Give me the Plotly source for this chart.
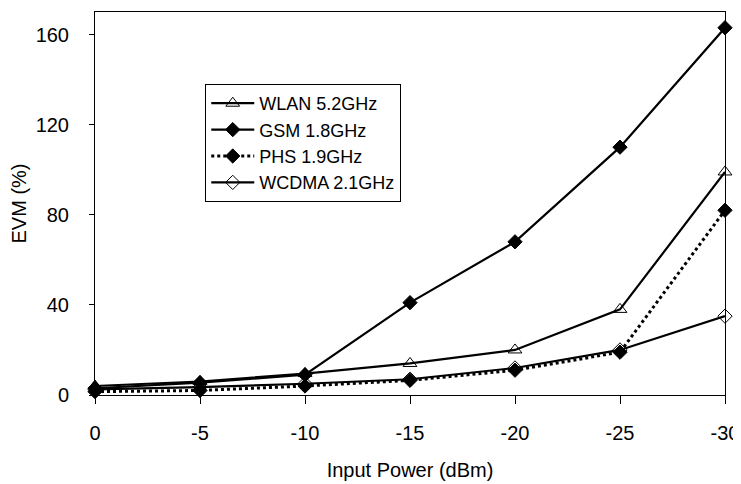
import plotly.graph_objects as go

# input power (dBm) and EVM (%)
power = [0, -5, -10, -15, -20, -25, -30]
wlan = [4, 6, 9.5, 14, 20, 38, 99]
gsm = [3, 5.5, 9, 41, 68, 110, 163]
phs = [1.5, 2, 4, 6.5, 11, 19, 82]
wcdma = [2.5, 3.5, 5, 7, 12, 20, 35]

y_ticks = [0, 40, 80, 120, 160]
x_ticks = [0, -5, -10, -15, -20, -25, -30]
x_labels = ["0", "-5", "-10", "-15", "-20", "-25", "-30"]

series = [
    ("WLAN 5.2GHz", wlan, "solid", "triangle-up-open", 12),
    ("GSM 1.8GHz", gsm, "solid", "diamond", 11),
    ("PHS 1.9GHz", phs, "dot", "diamond", 11),
    ("WCDMA 2.1GHz", wcdma, "solid", "diamond-open", 11),
]

fig = go.Figure()
for name, vals, dash, sym, size in series:
    fig.add_trace(go.Scatter(
        x=power, y=vals, name=name, mode="lines+markers",
        line=dict(color="black", width=2.2 if dash == "solid" else 3, dash=dash),
        marker=dict(symbol=sym, size=size, color="black",
                    line=dict(color="black", width=1)),
        cliponaxis=False,
    ))

# the page body adds an 8px offset, so the figure is 8px smaller than the window
font_name = "Liberation Sans, Arial, sans-serif"
fig.update_layout(
    width=733, height=476,
    margin=dict(l=87, r=16, t=4, b=89, autoexpand=False),
    paper_bgcolor="white", plot_bgcolor="white",
    font=dict(family=font_name, color="black", size=20),
    legend=dict(
        x=0.175, y=0.812, xanchor="left", yanchor="top",
        bordercolor="black", borderwidth=1, bgcolor="white",
        font=dict(size=18), tracegroupgap=0, itemwidth=43,
    ),
)
fig.update_xaxes(
    range=[0, -30], tickvals=x_ticks, ticktext=x_labels, ticks="outside",
    ticklen=8, tickcolor="black", showline=True, linecolor="black",
    linewidth=1, mirror=True, showgrid=False, zeroline=False,
    ticklabelstandoff=12, ticklabeloverflow="allow", automargin=False,
    title=dict(text="Input Power (dBm)", font=dict(size=20), standoff=19),
)
fig.update_yaxes(
    range=[0, 170], tickvals=y_ticks, ticks="outside", ticklen=5,
    tickcolor="black", showline=True, linecolor="black", linewidth=1,
    mirror=True, showgrid=False, zeroline=False, ticklabelstandoff=16,
    automargin=False,
    title=dict(text="EVM (%)", font=dict(size=20), standoff=3),
)

fig.write_html("out.html")
